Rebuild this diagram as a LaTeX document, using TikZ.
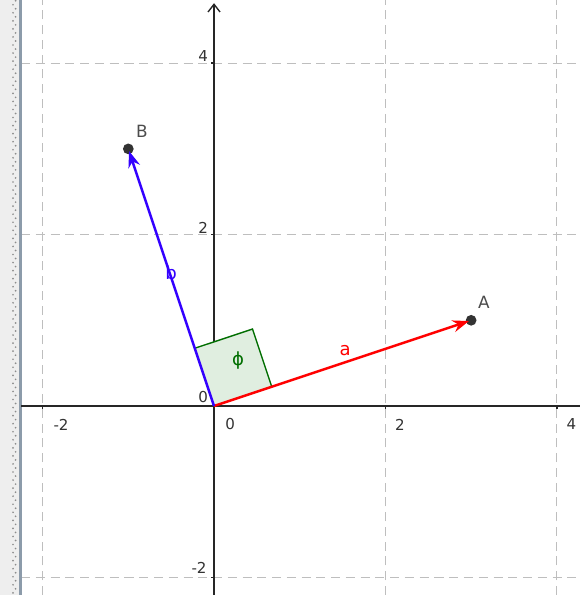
\documentclass[tikz,border=0pt]{standalone}
\usepackage{xcolor}
\usepackage{fontspec}
\setmainfont{DejaVu Sans}
\usetikzlibrary{arrows.meta}

\definecolor{vecA}{RGB}{255,0,0}
\definecolor{vecB}{RGB}{51,0,255}
\definecolor{angG}{RGB}{0,110,0}
\definecolor{gridc}{RGB}{190,190,190}
\definecolor{panelc}{RGB}{238,238,238}
\definecolor{edgec}{RGB}{140,155,170}

\begin{document}
\begin{tikzpicture}[>=Stealth,
        gridline/.style={gridc, dash pattern=on 3pt off 1.9pt, line width=0.35pt},
        axis/.style={black!85, line width=0.45pt},
        ticklbl/.style={font=\fontsize{5}{6}\selectfont, text=black!80, inner sep=0pt},
        pt/.style={circle, fill=black!80, inner sep=0pt, minimum size=0.125cm},
        ptlbl/.style={font=\fontsize{5.6}{6.5}\selectfont, text=black!70, inner sep=0pt},
        vec/.style={->, line width=0.8pt, shorten >=-1.2pt, >={Stealth[length=0.19cm, width=0.14cm]}},
        angmark/.style={draw=angG, fill=angG!12, line width=0.45pt}]

    \useasboundingbox (-2.497,-2.205) rectangle (4.271,4.737);
    \fill[white] (-2.497,-2.205) rectangle (4.271,4.737);

    \foreach \x in {-2,2,4}
        \draw[gridline] (\x,-2.205) -- (\x,4.737);
    \foreach \y in {-2,2,4}
        \draw[gridline] (-2.25,\y) -- (4.271,\y);

    \fill[panelc] (-2.497,-2.205) rectangle (-2.262,4.737);
    \foreach \i in {0,...,147}
        \fill[black!45] ({-2.345+0.03*mod(\i,2)},{-2.18+0.047*\i}) circle (0.011);
    \draw[edgec, line width=0.9pt] (-2.258,-2.205) -- (-2.258,4.737);

    \draw[axis] (-2.25,0) -- (4.271,0);
    \draw[axis, -{Straight Barb[length=0.09cm, width=0.14cm]}] (0,-2.205) -- (0,4.70);
    \foreach \x in {-2,2,4}
        \draw[axis] (\x,0) -- (\x,-0.04);
    \foreach \y in {-2,2,4}
        \draw[axis] (0,\y) -- (-0.04,\y);

    \node[ticklbl] (xm2) at (-1.785,-0.22) {-2};
    \node[ticklbl] (xp2) at (2.17,-0.22) {2};
    \node[ticklbl] (xp4) at (4.17,-0.21) {4};
    \node[ticklbl] (ym2) at (-0.175,-1.89) {-2};
    \node[ticklbl] (yp2) at (-0.128,2.077) {2};
    \node[ticklbl] (yp4) at (-0.128,4.084) {4};
    \node[ticklbl] (zx) at (0.187,-0.21) {0};
    \node[ticklbl] (zy) at (-0.128,0.105) {0};

    \draw[angmark, rotate=18.435] (0,0) rectangle (0.71,0.71);
    \node[text=angG, font=\fontsize{6}{7}\selectfont, inner sep=0pt] (phi) at (0.28,0.53) {ϕ};

    \coordinate (O) at (0,0);
    \node[pt] (A) at (3,1) {};
    \node[pt] (B) at (-1,3) {};
    \node[ptlbl] (lA) at (3.15,1.21) {A};
    \node[ptlbl] (lB) at (-0.84,3.21) {B};

    \draw[vec, vecA] (O) -- (A);
    \draw[vec, vecB] (O) -- (B);
    \node[text=vecA, font=\fontsize{6}{7}\selectfont, inner sep=0pt] (la) at (1.53,0.65) {a};
    \node[text=vecB, font=\fontsize{6}{7}\selectfont, inner sep=0pt] (lb) at (-0.50,1.56) {b};
\end{tikzpicture}
\end{document}
